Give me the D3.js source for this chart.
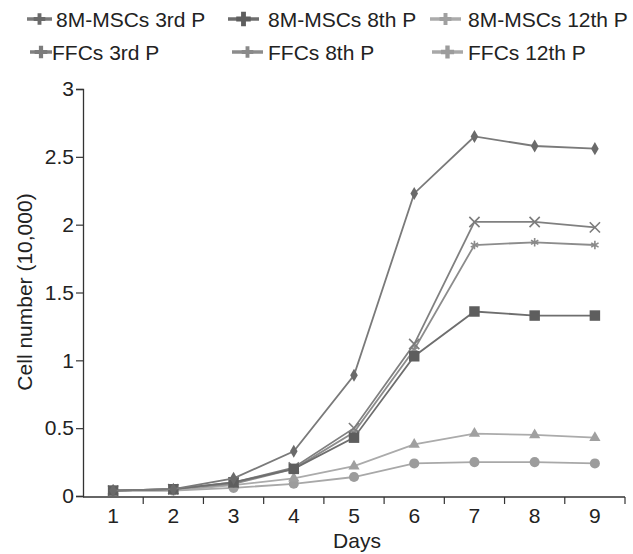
<!DOCTYPE html>
<html><head><meta charset="utf-8">
<script src="https://cdn.jsdelivr.net/npm/d3@7"></script>
<style>
html,body{margin:0;padding:0;background:#fff;}
svg{display:block;font-family:"Liberation Sans",Arial,sans-serif;}
</style></head>
<body><svg id="c" width="633" height="554"></svg>
<script>
const days = [1,2,3,4,5,6,7,8,9];
const yTicks = [0,0.5,1,1.5,2,2.5,3];
const msc3 = [0.04,0.05,0.13,0.33,0.89,2.23,2.65,2.58,2.56];
const msc8 = [0.04,0.05,0.10,0.20,0.43,1.03,1.36,1.33,1.33];
const msc12 = [0.04,0.04,0.08,0.13,0.22,0.38,0.46,0.45,0.43];
const ffc3 = [0.04,0.05,0.10,0.21,0.50,1.12,2.02,2.02,1.98];
const ffc8 = [0.04,0.05,0.09,0.20,0.47,1.08,1.85,1.87,1.85];
const ffc12 = [0.04,0.04,0.06,0.09,0.14,0.24,0.25,0.25,0.24];
const seriesNames = ["8M-MSCs 3rd P","8M-MSCs 8th P","8M-MSCs 12th P","FFCs 3rd P","FFCs 8th P","FFCs 12th P"];

const timesSym = d3.symbolTimes || d3.symbolCross;
const astSym = d3.symbolAsterisk || d3.symbolCross;
const series = [
  {name:seriesNames[0], v:msc3, line:"#7a7a7a", fill:"#6a6a6a", sym:d3.symbolDiamond, size:50},
  {name:seriesNames[1], v:msc8, line:"#6e6e6e", fill:"#5e5e5e", sym:d3.symbolSquare, size:110},
  {name:seriesNames[2], v:msc12, line:"#ababab", fill:"#a0a0a0", sym:d3.symbolTriangle, size:55},
  {name:seriesNames[3], v:ffc3, line:"#808080", fill:"#7c7c7c", sym:timesSym, size:70, stroke:true},
  {name:seriesNames[4], v:ffc8, line:"#8c8c8c", fill:"#8a8a8a", sym:astSym, size:50, stroke:true},
  {name:seriesNames[5], v:ffc12, line:"#a8a8a8", fill:"#9c9c9c", sym:d3.symbolCircle, size:80}
];

const FS = 21;
const svg = d3.select("#c");
const x = d3.scaleBand().domain(days).range([83, 625]);
const y = d3.scaleLinear().domain([0,3]).range([496, 89]);
const axisColor = "#333";

// y axis
const ya = svg.append("g").attr("transform","translate(83,0)")
  .call(d3.axisLeft(y).tickValues(yTicks).tickSize(7).tickPadding(2).tickFormat(d=>d3.format("")(d)));
ya.select(".domain").attr("stroke",axisColor).attr("stroke-width",1.3);
ya.selectAll(".tick line").attr("stroke",axisColor).attr("stroke-width",1.2);
ya.selectAll(".tick text").attr("font-size",FS).attr("fill","#222").attr("font-family","Liberation Sans, Arial, sans-serif");

// x axis labels
const xa = svg.append("g").attr("transform","translate(0,497)")
  .call(d3.axisBottom(x).tickSize(0).tickPadding(11));
xa.select(".domain").remove();
xa.selectAll(".tick text").attr("font-size",FS).attr("fill","#222").attr("font-family","Liberation Sans, Arial, sans-serif");
// x axis line and boundary ticks
svg.append("line").attr("x1",x.range()[0]).attr("x2",x.range()[1]).attr("y1",497).attr("y2",497)
  .attr("stroke",axisColor).attr("stroke-width",1.3);
const bounds = days.map(d=>x(d)).concat([x.range()[1]]).slice(1);
svg.selectAll(".xt").data(bounds).enter().append("line")
  .attr("x1",d=>d).attr("x2",d=>d).attr("y1",497).attr("y2",504)
  .attr("stroke",axisColor).attr("stroke-width",1.2);

// axis titles
svg.append("text").attr("x",357).attr("y",548).attr("text-anchor","middle")
  .attr("font-size",FS).attr("fill","#222").text("Days");
svg.append("text").attr("transform","translate(32,292) rotate(-90)").attr("text-anchor","middle")
  .attr("font-size",FS).attr("fill","#222").text("Cell number (10,000)");

const cx = d => x(d) + x.bandwidth()/2;
const line = d3.line().x((v,i)=>cx(days[i])).y(v=>y(v));

const order = [5,2,4,3,1,0];
order.forEach(k=>{
  const s = series[k];
  svg.append("path").datum(s.v).attr("d",line).attr("fill","none")
    .attr("stroke",s.line).attr("stroke-width",1.8);
  svg.selectAll(null).data(s.v).enter().append("path")
    .attr("d",d3.symbol().type(s.sym).size(s.size))
    .attr("transform",(v,i)=>`translate(${cx(days[i])},${y(v)})`)
    .attr("fill",s.stroke?"none":s.fill)
    .attr("stroke",s.stroke?s.fill:"none").attr("stroke-width",s.stroke?1.6:0);
});

// legend
const legPos = [[27,19,29],[228,19,40],[430,19,38],[30,52,22],[232,52,36],[432,52,36]];
const lg = svg.append("g");
series.forEach((s,i)=>{
  const [lx,ly,tx] = legPos[i];
  const g = lg.append("g").attr("transform",`translate(${lx},${ly})`);
  const lw = i===0 ? 25 : (i===3 ? 22 : 31);
  g.append("line").attr("x1",0).attr("x2",lw).attr("y1",0).attr("y2",0)
    .attr("stroke",s.line).attr("stroke-width",3.5);
  g.append("path").attr("d",d3.symbol().type(d3.symbolCross).size(s.size*0.7+40))
    .attr("transform",`translate(${lw/2},0)`).attr("fill",s.fill);
  g.append("text").attr("x", tx).attr("y",8).attr("font-size",FS)
    .attr("fill","#222").text(s.name);
});
</script></body></html>
